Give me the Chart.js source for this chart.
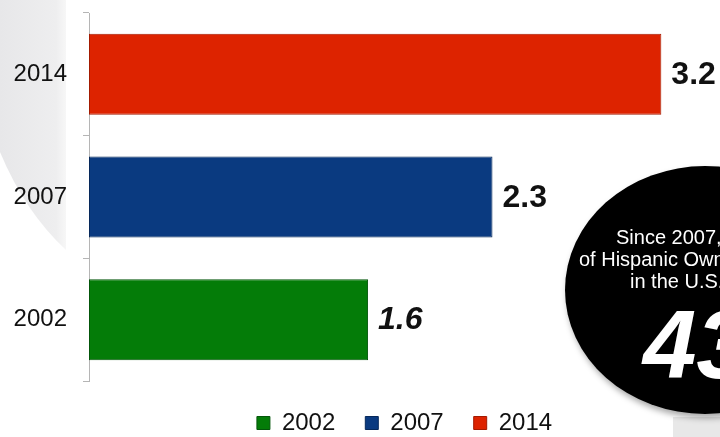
<!DOCTYPE html>
<html>
<head>
<meta charset="utf-8">
<script src="https://cdn.jsdelivr.net/npm/chart.js@4/dist/chart.umd.min.js"></script>
<style>
  html, body { margin: 0; padding: 0; background: #fff; overflow: hidden; }
  #wrap { position: relative; width: 720px; height: 437px; overflow: hidden; }
  #bgShape { position: absolute; left: 0; top: 0; z-index: 0; }
  #chartBox { position: absolute; left: 0; top: 0; width: 720px; height: 437px; z-index: 1; }
  .cornerGrey { position: absolute; left: 673px; top: 417px; width: 60px; height: 30px; background: #e8e8e8; z-index: 1; }
  .bubble {
    position: absolute; left: 565px; top: 166px; width: 280px; height: 248px;
    border-radius: 50%; background: #000; z-index: 2;
    box-shadow: 2px 4px 6px rgba(0,0,0,0.35);
  }
  .bubbleText {
    position: absolute; z-index: 3; color: #fff; white-space: nowrap;
    font-family: 'Liberation Sans', Arial, sans-serif; font-size: 20px; line-height: 23px;
  }
  .bigNum {
    position: absolute; z-index: 3; color: #fff; white-space: nowrap;
    font-family: 'Liberation Sans', Arial, sans-serif; font-size: 96px; line-height: 96px;
    font-weight: bold; font-style: italic; left: 643px; top: 297px;
  }
</style>
</head>
<body>
<div id="wrap">
  <svg id="bgShape" width="90" height="260">
    <defs>
      <linearGradient id="gShade" x1="0" y1="0" x2="1" y2="0">
        <stop offset="0" stop-color="#e7e7e9"/>
        <stop offset="0.85" stop-color="#eeeeef"/>
        <stop offset="1" stop-color="#f7f7f7"/>
      </linearGradient>
    </defs>
    <path d="M0,0 H66 V250 Q25,212 0,152 Z" fill="url(#gShade)"/>
  </svg>
  <div id="chartBox"><canvas id="barChart"></canvas></div>
  <div class="cornerGrey"></div>
  <div class="bubble"></div>
  <div class="bubbleText" style="left:616px;top:226px">Since 2007, the number</div>
  <div class="bubbleText" style="left:579px;top:248px">of Hispanic Owned Businesses</div>
  <div class="bubbleText" style="left:630px;top:270px">in the U.S.</div>
  <div class="bigNum">43%</div>
</div>
<script>
// Hispanic-owned businesses (millions) — bar chart

// rows top to bottom
const categories = ['2014', '2007', '2002'];
// legend order
const seriesYears = ['2002', '2007', '2014'];
const seriesValues = [1.57, 2.27, 3.22];

const FILL   = { '2002': '#047c08', '2007': '#0a3a80', '2014': '#dd2300' };
const EDGE   = { '2002': '#03560a', '2007': '#06285a', '2014': '#a31a00' };
const LABEL_STYLE = { '2002': 'italic', '2007': 'normal', '2014': 'normal' };

const FONT = "'Liberation Sans', Arial, sans-serif";

const datasets = seriesYears.map((yr, i) => ({
  label: yr,
  data: categories.map(c => (c === yr ? seriesValues[i] : null)),
  backgroundColor: FILL[yr],
  borderColor: EDGE[yr],
  borderWidth: 1,
  borderSkipped: false
}));

// value labels at the end of each bar
const valueLabels = {
  id: 'valueLabels',
  afterDatasetsDraw(chart) {
    const ctx = chart.ctx;
    ctx.save();
    ctx.fillStyle = '#111';
    ctx.textAlign = 'left';
    ctx.textBaseline = 'middle';
    chart.data.datasets.forEach((ds, di) => {
      const meta = chart.getDatasetMeta(di);
      meta.data.forEach((bar, i) => {
        const v = ds.data[i];
        if (v === null) return;
        ctx.font = `${LABEL_STYLE[ds.label]} bold 32px ${FONT}`;
        ctx.fillText(v.toFixed(1), bar.x + 10, bar.y + 1);
      });
    });
    ctx.restore();
  }
};

new Chart(document.getElementById('barChart'), {
  type: 'bar',
  data: { labels: categories, datasets },
  options: {
    indexAxis: 'y',
    responsive: true,
    maintainAspectRatio: false,
    animation: false,
    skipNull: true,
    categoryPercentage: 1,
    barPercentage: 0.66,
    layout: { padding: { top: 13, right: 0, bottom: 0, left: 0 } },
    plugins: {
      tooltip: { enabled: false },
      legend: {
        position: 'bottom',
        fullSize: false,
        maxHeight: 56,
        labels: {
          color: '#111',
          font: { family: FONT, size: 24 },
          boxWidth: 13,
          boxHeight: 13,
          padding: 30
        }
      }
    },
    scales: {
      x: { display: false, min: 0, max: 3.55 },
      y: {
        afterFit: s => { s.width = 89; s.paddingTop = 0; s.paddingBottom = 0; },
        grid: { drawOnChartArea: false, drawTicks: true, tickLength: 6, color: '#b5b5b5' },
        border: { display: true, color: '#b5b5b5' },
        ticks: { color: '#111', padding: 16, font: { family: FONT, size: 24 } }
      }
    }
  },
  plugins: [valueLabels]
});
</script>
</body>
</html>
